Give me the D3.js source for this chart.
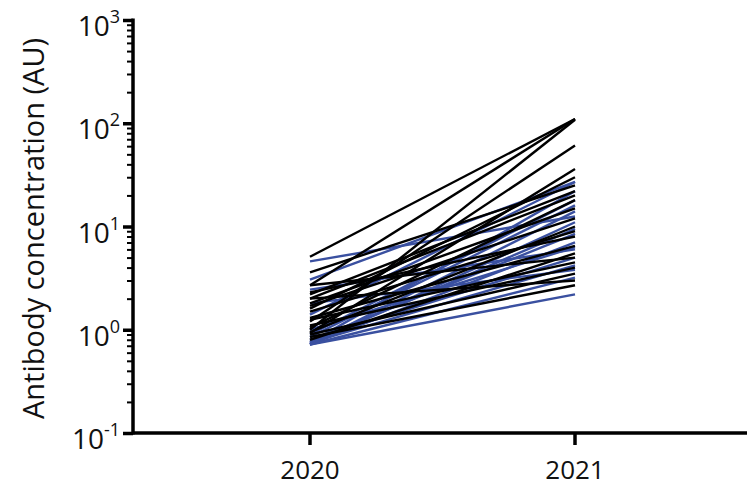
<!DOCTYPE html>
<html>
<head>
<meta charset="utf-8">
<script src="https://cdn.jsdelivr.net/npm/d3@7"></script>
<style>
  body { margin: 0; background: #fff; }
  svg { display: block; font-family: "Open Sans", sans-serif; }
</style>
</head>
<body>
<div id="grafico"></div>
<script>
// datos
const years = ["2020", "2021"];
const yTicks = [0.1, 1, 10, 100, 1000];

// pares 2020 -> 2021, grupo negro
const black2020 = [5.1, 2.7, 1.0, 1.2, 0.93, 3.6, 2.0, 2.3, 1.8, 1.6, 1.05, 2.7, 0.95, 1.3, 2.0, 1.1, 0.9, 1.5, 0.85, 1.7, 0.8, 2.2, 1.25];
const black2021 = [110, 110, 108, 61, 36, 25, 20, 8, 15, 30, 18, 5, 10, 6.5, 3.0, 4.0, 3.5, 9, 2.7, 12, 5.5, 22, 4.5];

// grupo azul
const blue2020 = [4.6, 3.05, 2.45, 0.72, 0.72, 0.75, 0.8, 0.72, 0.78, 0.72, 0.9, 0.75, 1.4, 0.72, 1.0, 0.85, 1.8, 0.74];
const blue2021 = [12.5, 27, 6, 2.2, 3.2, 4.2, 5, 7, 8.5, 14, 18, 22, 27, 11, 6.3, 16, 3.8, 9.5];

const W = 747, H = 491;
const margin = { top: 20, right: 0, bottom: 58, left: 133 };

const svg = d3.select("#grafico").append("svg")
  .attr("width", W).attr("height", H);

const y = d3.scaleLog().domain([0.1, 1000]).range([H - margin.bottom, margin.top]);
const x = d3.scalePoint().domain(years).range([310, 575]);

// lineas
const line = d3.line().x(d => x(d[0])).y(d => y(d[1]));

function drawGroup(a, b, color) {
  const pairs = a.map((v, i) => [[years[0], v], [years[1], b[i]]]);
  svg.append("g").selectAll("path")
    .data(pairs).enter().append("path")
    .attr("d", line)
    .attr("fill", "none")
    .attr("stroke", color)
    .attr("stroke-width", 2.4);
}
drawGroup(blue2020, blue2021, "#3a50a0");
drawGroup(black2020, black2021, "#000");

// eje Y con ticks menores
const minor = [];
for (let e = -1; e < 3; e++) for (let k = 2; k <= 9; k++) minor.push(k * Math.pow(10, e));

const gy = svg.append("g").attr("transform", `translate(${margin.left},0)`);
gy.append("g").call(d3.axisLeft(y).tickValues(minor).tickSize(6).tickFormat(""))
  .call(g => g.select(".domain").remove())
  .selectAll("line").attr("stroke", "#000").attr("stroke-width", 2);
gy.append("g").call(d3.axisLeft(y).tickValues(yTicks).tickSize(10).tickFormat(""))
  .call(g => g.select(".domain").remove())
  .selectAll("line").attr("stroke", "#000").attr("stroke-width", 3.5);
gy.append("line")
  .attr("x1", 0).attr("x2", 0)
  .attr("y1", y(1000) - 1.5).attr("y2", y(0.1) + 1.5)
  .attr("stroke", "#000").attr("stroke-width", 3.5);

// etiquetas 10^n
const labels = gy.selectAll(".ylab").data(yTicks).enter().append("text")
  .attr("class", "ylab")
  .attr("x", -13)
  .attr("y", d => y(d) + 16)
  .attr("text-anchor", "end")
  .style("font-size", "28px")
  .attr("fill", "#111");
labels.append("tspan").text("10");
labels.append("tspan")
  .attr("dy", -13)
  .style("font-size", "18px")
  .text(d => Math.round(Math.log10(d)));

// eje X
const gx = svg.append("g").attr("transform", `translate(0,${y(0.1)})`);
gx.append("line")
  .attr("x1", margin.left).attr("x2", W)
  .attr("stroke", "#000").attr("stroke-width", 3.5);
gx.selectAll(".xt").data(years).enter().append("line")
  .attr("x1", d => x(d)).attr("x2", d => x(d))
  .attr("y1", 0).attr("y2", 12)
  .attr("stroke", "#000").attr("stroke-width", 3.5);
gx.selectAll(".xl").data(years).enter().append("text")
  .attr("x", d => x(d)).attr("y", 46)
  .attr("text-anchor", "middle")
  .style("font-size", "26px")
  .attr("fill", "#111")
  .text(d => d);

// titulo eje Y
svg.append("text")
  .attr("transform", `translate(44,${(y(0.1) + y(1000)) / 2 + 2}) rotate(-90)`)
  .attr("text-anchor", "middle")
  .style("font-size", "29px")
  .attr("fill", "#111")
  .text("Antibody concentration (AU)");
</script>
</body>
</html>
